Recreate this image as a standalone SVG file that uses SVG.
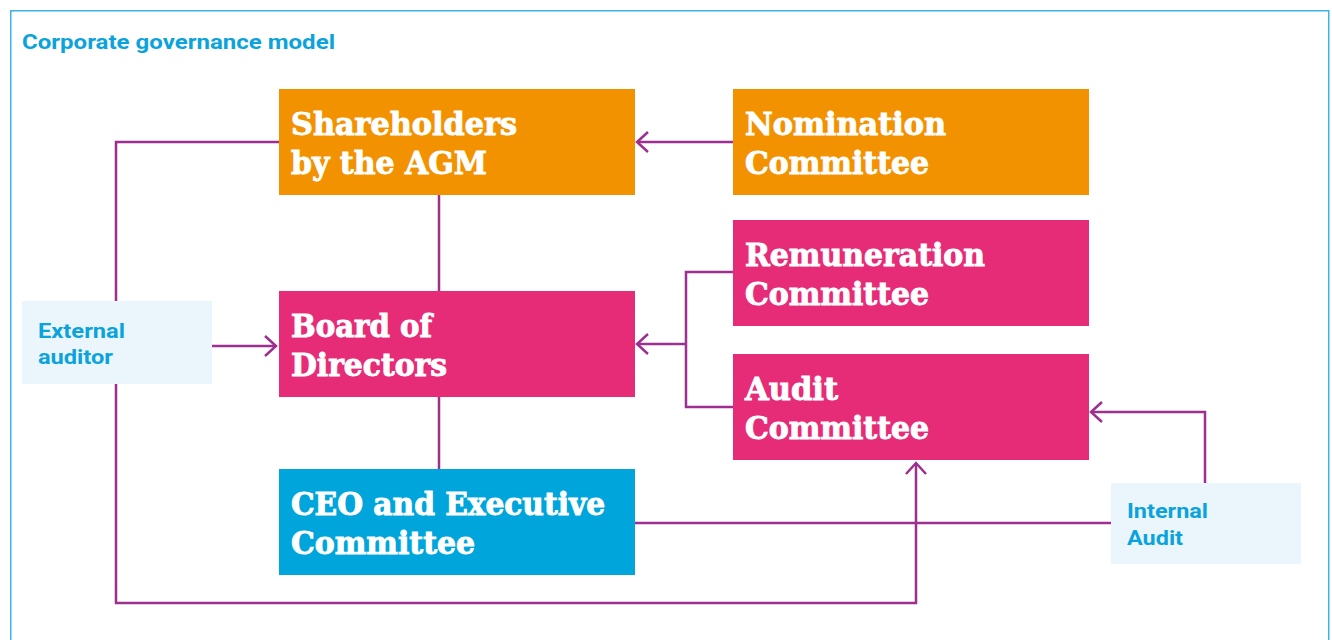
<svg xmlns="http://www.w3.org/2000/svg" width="1332" height="640" viewBox="0 0 1332 640">
<defs>
<style>
.frame{fill:#ffffff;stroke:#3cb4e5;stroke-width:1.5}
.title{font-family:Roboto,"Liberation Sans",sans-serif;font-weight:700;font-size:21px;fill:#0aa3dc}
.orange{fill:#f39200}
.pink{fill:#e62b77}
.blue{fill:#00a5db}
.light{fill:#eaf5fc}
.bt{font-family:"DejaVu Serif Condensed","DejaVu Serif",serif;font-weight:700;font-size:32px;fill:#ffffff;stroke:#ffffff;stroke-width:0.9}
.lt{font-family:Roboto,"Liberation Sans",sans-serif;font-weight:700;font-size:21px;fill:#0aa3dc}
.con{fill:none;stroke:#9c2f8f;stroke-width:2.5}
</style>
<marker id="arr" viewBox="0 0 14 22" refX="12" refY="11" markerWidth="14" markerHeight="22" markerUnits="userSpaceOnUse" orient="auto">
<path d="M1,1 L12,11 L1,21" fill="none" stroke="#9c2f8f" stroke-width="2.5"/>
</marker>
</defs>
<rect class="frame" x="10.75" y="10.75" width="1318" height="640"/>
<text class="title" x="22" y="49" textLength="313" lengthAdjust="spacingAndGlyphs">Corporate governance model</text>

<g id="connectors">
<line class="con" x1="733" y1="142" x2="637" y2="142" marker-end="url(#arr)"/>
<polyline class="con" points="279,142 116,142 116,301"/>
<polyline class="con" points="116,384 116,603 916,603 916,463" marker-end="url(#arr)"/>
<line class="con" x1="439" y1="195" x2="439" y2="291"/>
<line class="con" x1="439" y1="397" x2="439" y2="469"/>
<line class="con" x1="212" y1="346" x2="276" y2="346" marker-end="url(#arr)"/>
<polyline class="con" points="733,272 686,272 686,407 733,407"/>
<line class="con" x1="686" y1="344" x2="637" y2="344" marker-end="url(#arr)"/>
<polyline class="con" points="1205,483 1205,412 1091,412" marker-end="url(#arr)"/>
<line class="con" x1="635" y1="523" x2="1111" y2="523"/>
</g>

<g id="shareholders">
<rect class="orange" x="279" y="89" width="356" height="106"/>
<text class="bt" x="291" y="135" textLength="226" lengthAdjust="spacingAndGlyphs">Shareholders</text>
<text class="bt" x="291" y="174" textLength="196" lengthAdjust="spacingAndGlyphs">by the AGM</text>
</g>
<g id="nomination">
<rect class="orange" x="733" y="89" width="356" height="106"/>
<text class="bt" x="745" y="135" textLength="201" lengthAdjust="spacingAndGlyphs">Nomination</text>
<text class="bt" x="745" y="174" textLength="184" lengthAdjust="spacingAndGlyphs">Committee</text>
</g>
<g id="remuneration">
<rect class="pink" x="733" y="220" width="356" height="106"/>
<text class="bt" x="745" y="266" textLength="240" lengthAdjust="spacingAndGlyphs">Remuneration</text>
<text class="bt" x="745" y="305" textLength="184" lengthAdjust="spacingAndGlyphs">Committee</text>
</g>
<g id="board">
<rect class="pink" x="279" y="291" width="356" height="106"/>
<text class="bt" x="291" y="337" textLength="141" lengthAdjust="spacingAndGlyphs">Board of</text>
<text class="bt" x="291" y="376" textLength="156" lengthAdjust="spacingAndGlyphs">Directors</text>
</g>
<g id="audit">
<rect class="pink" x="733" y="354" width="356" height="106"/>
<text class="bt" x="745" y="400" textLength="93" lengthAdjust="spacingAndGlyphs">Audit</text>
<text class="bt" x="745" y="439" textLength="184" lengthAdjust="spacingAndGlyphs">Committee</text>
</g>
<g id="ceo">
<rect class="blue" x="279" y="469" width="356" height="106"/>
<text class="bt" x="291" y="515" textLength="314" lengthAdjust="spacingAndGlyphs">CEO and Executive</text>
<text class="bt" x="291" y="554" textLength="184" lengthAdjust="spacingAndGlyphs">Committee</text>
</g>
<g id="external-auditor">
<rect class="light" x="22" y="301" width="190" height="83"/>
<text class="lt" x="38" y="338" textLength="87" lengthAdjust="spacingAndGlyphs">External</text>
<text class="lt" x="38" y="364" textLength="75" lengthAdjust="spacingAndGlyphs">auditor</text>
</g>
<g id="internal-audit">
<rect class="light" x="1111" y="483" width="190" height="81"/>
<text class="lt" x="1127" y="518" textLength="81" lengthAdjust="spacingAndGlyphs">Internal</text>
<text class="lt" x="1127" y="545" textLength="56" lengthAdjust="spacingAndGlyphs">Audit</text>
</g>
</svg>
